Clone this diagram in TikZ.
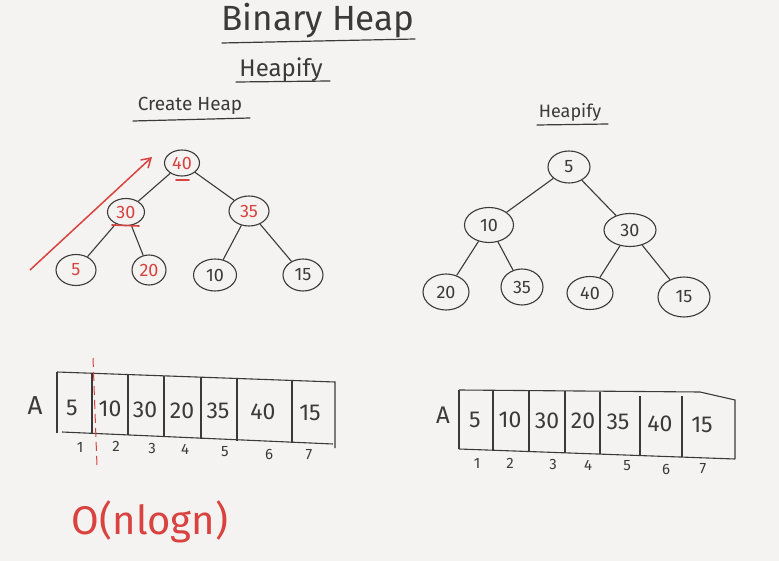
\documentclass[tikz,border=0pt]{standalone}
\usepackage{fontspec}
\setmainfont{Fira Sans}
\usetikzlibrary{shapes.geometric,arrows.meta}
\definecolor{board}{HTML}{F4F3F1}
\definecolor{ink}{HTML}{3A3A3A}
\definecolor{marker}{HTML}{D8423F}
\begin{document}
\begin{tikzpicture}[x=1pt,y=-1pt,line width=1.1pt,color=ink,
  key/.style={ellipse,draw=ink,line width=1.1pt,inner sep=0pt,
    font=\fontsize{18}{18}\selectfont},
  redkey/.style={key,text=marker},
  edge/.style={draw=ink,line width=1.1pt},
  cellval/.style={font=\fontsize{23}{23}\selectfont,text=ink,inner sep=0pt},
  idx/.style={font=\fontsize{15}{15}\selectfont,text=ink,inner sep=0pt},
  heading/.style={text=ink,inner sep=0pt},
  underline/.style={draw=ink,line width=1.2pt,line cap=round},
  redmark/.style={draw=marker,line width=1.6pt,line cap=round}]

% whiteboard
\fill[board] (0,0) rectangle (779,561);
\useasboundingbox (0,0) rectangle (779,561);

% headings
\node[heading,font=\fontsize{35}{35}\selectfont] (title) at (318,21) {Binary Heap};
\draw[underline] (222,43) -- (415,39);
\node[heading,font=\fontsize{24}{24}\selectfont] (sub) at (281,70) {Heapify};
\draw[underline] (236,82) -- (330,81);
\node[heading,font=\fontsize{19}{19}\selectfont] (create) at (190,106) {Create Heap};
\draw[underline] (133,121) -- (250,118);
\node[heading,font=\fontsize{18}{18}\selectfont] (rhead) at (570,112) {Heapify};
\draw[underline] (537,125) -- (608,124);

% ---- tree built by repeated insertion ----
\node[redkey,minimum width=35pt,minimum height=26pt] (a40) at (182,163) {40};
\node[redkey,minimum width=37pt,minimum height=27pt] (a30) at (126,212) {30};
\node[redkey,minimum width=40pt,minimum height=30pt] (a35) at (249,211) {35};
\node[redkey,minimum width=40pt,minimum height=31pt] (a5)  at (76,270) {5};
\node[redkey,minimum width=34pt,minimum height=30pt] (a20) at (149,270) {20};
\node[key,minimum width=43pt,minimum height=32pt] (a10) at (215,275) {10};
\node[key,minimum width=40pt,minimum height=32pt] (a15) at (303,275) {15};
\draw[edge] (a40) -- (a30);
\draw[edge] (a40) -- (a35);
\draw[edge] (a30) -- (a5);
\draw[edge] (a30) -- (a20);
\draw[edge] (a35) -- (a10);
\draw[edge] (a35) -- (a15);
% red marks
\coordinate (arrowfoot) at (30,270);
\coordinate (arrowhead) at (152,157);
\draw[draw=marker,line width=1.5pt,-{Straight Barb[length=9pt,width=11pt]}] (arrowfoot) -- (arrowhead);
\draw[redmark] (176,180) -- (189,180);
\draw[redmark] (112,225) -- (139,226);

% ---- tree after heapify ----
\node[key,minimum width=42pt,minimum height=32pt] (b5)  at (569,167) {5};
\node[key,minimum width=49pt,minimum height=35pt] (b10) at (489,225) {10};
\node[key,minimum width=52pt,minimum height=33pt] (b30) at (630,230) {30};
\node[key,minimum width=46pt,minimum height=36pt] (b20) at (446,292) {20};
\node[key,minimum width=42pt,minimum height=36pt] (b35) at (522,287) {35};
\node[key,minimum width=46pt,minimum height=33pt] (b40) at (590,293) {40};
\node[key,minimum width=52pt,minimum height=40pt] (b15) at (684,297) {15};
\draw[edge] (b5) -- (b10);
\draw[edge] (b5) -- (b30);
\draw[edge] (b10) -- (b20);
\draw[edge] (b10) -- (b35);
\draw[edge] (b30) -- (b40);
\draw[edge] (b30) -- (b15);

% ---- array of the left heap ----
\node[heading,font=\fontsize{26}{26}\selectfont] (la) at (35,406) {A};
\draw[edge] (57,372) -- (335,382) -- (335,448);
\draw[edge] (57,372) -- (57,433);
\draw[edge] (62,432) -- (333,444);
\draw[edge] (92,373) -- (92,434);
\draw[edge] (128,374) -- (128,435);
\draw[edge] (164,376) -- (164,437);
\draw[edge] (201,377) -- (201,439);
\draw[edge] (237,378) -- (237,441);
\draw[edge] (292,380) -- (292,443);
\node[cellval] (l1) at (72,408) {5};
\node[cellval] (l2) at (110,409) {10};
\node[cellval] (l3) at (145,410) {30};
\node[cellval] (l4) at (182,411) {20};
\node[cellval] (l5) at (218,411) {35};
\node[cellval] (l6) at (263,412) {40};
\node[cellval] (l7) at (310,413) {15};
\node[idx] (li1) at (80,447) {1};
\node[idx] (li2) at (116,446) {2};
\node[idx] (li3) at (152,448) {3};
\node[idx] (li4) at (185,449) {4};
\node[idx] (li5) at (225,452) {5};
\node[idx] (li6) at (269,454) {6};
\node[idx] (li7) at (309,455) {7};
\draw[draw=marker,line width=1pt,dash pattern=on 9pt off 5pt] (93,358) -- (97,466);

% ---- array of the heapified tree ----
\node[heading,font=\fontsize{24}{24}\selectfont] (ra) at (443,415) {A};
\draw[edge] (459,390) -- (700,392) -- (735,400) -- (735,459);
\draw[edge] (459,390) -- (459,449);
\draw[edge] (459,449) -- (735,459);
\draw[edge] (493,391) -- (493,450);
\draw[edge] (529,391) -- (529,452);
\draw[edge] (565,391) -- (565,453);
\draw[edge] (600,392) -- (600,454);
\draw[edge] (640,396) -- (640,456);
\draw[edge] (682,396) -- (682,457);
\node[cellval] (r1) at (475,420) {5};
\node[cellval] (r2) at (510,420) {10};
\node[cellval] (r3) at (547,421) {30};
\node[cellval] (r4) at (583,421) {20};
\node[cellval] (r5) at (618,422) {35};
\node[cellval] (r6) at (660,424) {40};
\node[cellval] (r7) at (702,425) {15};
\node[idx] (ri1) at (477,463) {1};
\node[idx] (ri2) at (510,463) {2};
\node[idx] (ri3) at (553,464) {3};
\node[idx] (ri4) at (588,465) {4};
\node[idx] (ri5) at (627,466) {5};
\node[idx] (ri6) at (666,469) {6};
\node[idx] (ri7) at (703,469) {7};

% ---- cost ----
\node[text=marker,inner sep=0pt,font=\fontsize{40}{40}\selectfont] (cost) at (150,522) {O(nlogn)};
\end{tikzpicture}
\end{document}
